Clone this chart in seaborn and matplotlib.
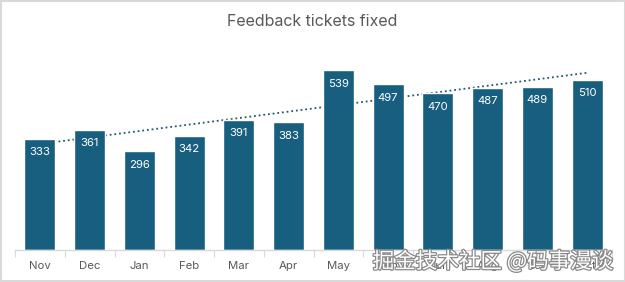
import numpy as np
import pandas as pd
import matplotlib
matplotlib.use("Agg")
import matplotlib.pyplot as plt
import matplotlib.patheffects as pe
from matplotlib.patches import Rectangle
import seaborn as sns

months = ["Nov", "Dec", "Jan", "Feb", "Mar", "Apr", "May", "Jun", "Jul", "Aug", "Sep", "Oct"]
tickets = [333, 361, 296, 342, 391, 383, 539, 497, 470, 487, 489, 510]
title = "Feedback tickets fixed"
watermark = "掘金技术社区 @码事漫谈"

sns.set_theme(style="white")
plt.rcParams["font.family"] = ["Inter", "DejaVu Sans"]

bar_color = "#175E7F"
text_gray = "#595959"
axis_gray = "#D9D9D9"

df = pd.DataFrame({"month": months, "tickets": tickets})

fig = plt.figure(figsize=(6.25, 2.82), dpi=100)
ax = fig.add_axes([15 / 625, 32 / 282, 597 / 625, 200 / 282])

sns.barplot(data=df, x="month", y="tickets", color=bar_color, width=0.62,
            saturation=1, ax=ax, zorder=2)

# linear trendline
xs = np.arange(len(tickets))
slope, intercept = np.polyfit(xs, tickets, 1)
ax.plot(xs, slope * xs + intercept, linestyle=(0, (1, 1.6)), color="#1F5A70",
        linewidth=1.3, zorder=1)

for i, v in enumerate(tickets):
    ax.annotate(str(v), (i, v), xytext=(0, -9.5), textcoords="offset points",
                ha="center", va="center", color="white", fontsize=8.2, zorder=3)

ax.set_xlim(-0.5, len(months) - 0.5)
ax.set_ylim(0, 600)
ax.set_xlabel("")
ax.set_ylabel("")
ax.set_yticks([])
for s in ["top", "right", "left"]:
    ax.spines[s].set_visible(False)
ax.spines["bottom"].set_color(axis_gray)
ax.spines["bottom"].set_linewidth(1)
ax.tick_params(axis="x", which="major", length=0, pad=8, labelsize=8.2, labelcolor=text_gray)
ax.set_xticks(np.arange(-0.5, len(months), 1), minor=True)
ax.tick_params(axis="x", which="minor", length=5, width=0.8, color=axis_gray, bottom=True)

fig.text(0.5, 1 - 22 / 282, title, ha="center", va="center", fontsize=11.5, color=text_gray)

fig.text(613 / 625, 1 - 262 / 282, watermark, ha="right", va="center", fontsize=15.5,
         color="white", family=["Noto Sans CJK SC", "DejaVu Sans"],
         path_effects=[pe.withStroke(linewidth=1.8, foreground="#8a8a8a")], zorder=10)

fig.patches.append(Rectangle((0.0008, 0.0018), 0.9984, 0.9964, transform=fig.transFigure,
                             fill=False, edgecolor=axis_gray, linewidth=1.5))

fig.savefig("out.png", dpi=100)
